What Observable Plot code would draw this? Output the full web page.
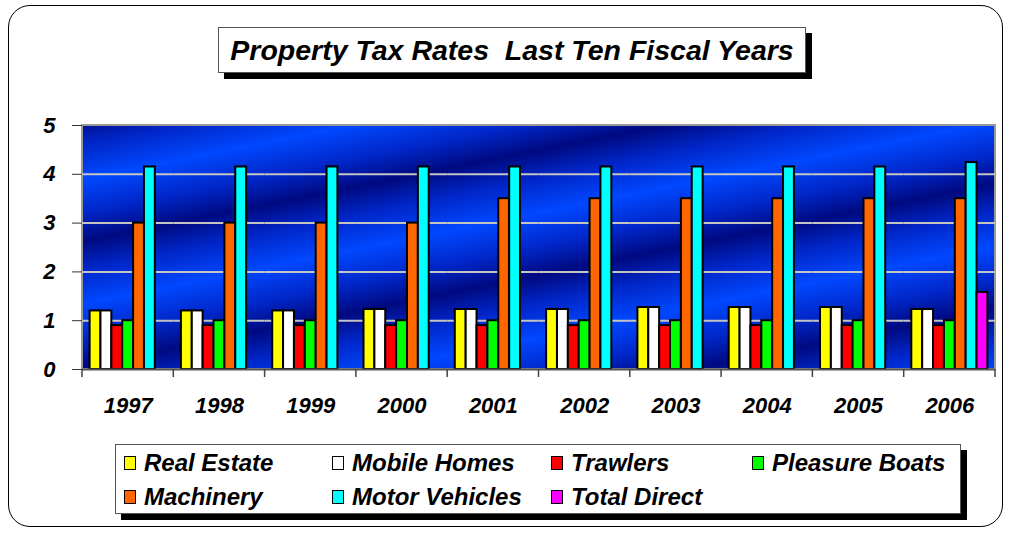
<!DOCTYPE html>
<html>
<head>
<meta charset="utf-8">
<script src="https://cdn.jsdelivr.net/npm/d3@7"></script>
<script src="https://cdn.jsdelivr.net/npm/@observablehq/plot@0.6"></script>
<style>
  html, body { margin: 0; padding: 0; background: #fff; }
  #wrap { position: relative; width: 1010px; height: 533px; overflow: hidden; font-family: "Liberation Sans", Arial, sans-serif; }
  #outer { position: absolute; left: 8px; top: 5px; width: 993px; height: 520px; border: 1px solid #000; border-radius: 22px; }
  #title { position: absolute; left: 218px; top: 27px; width: 586px; height: 44px; border: 1px solid #555; background: #fff;
           box-shadow: 6px 6px 0 #000; text-align: center; font-weight: bold; font-style: italic; font-size: 28.5px; line-height: 44px; color: #000; }
  #chart { position: absolute; left: 0; top: 0; }
  #legend { position: absolute; left: 115px; top: 444px; width: 844px; height: 68px; border: 1px solid #555; background: #fff;
            box-shadow: 6px 6px 0 #000; }
  .item { position: absolute; display: flex; align-items: center; font-weight: bold; font-style: italic; font-size: 24px; color: #000; white-space: nowrap; }
  .sw { width: 10px; height: 12px; border: 1.5px solid #000; margin-right: 8px; }
</style>
</head>
<body>
<div id="wrap">
  <div id="outer"></div>
  <div id="chart"></div>
  <div id="title">Property Tax Rates&nbsp; Last Ten Fiscal Years</div>
  <div id="legend"></div>
</div>
<script>
const years = ["1997","1998","1999","2000","2001","2002","2003","2004","2005","2006"];
const series = ["Real Estate","Mobile Homes","Trawlers","Pleasure Boats","Machinery","Motor Vehicles","Total Direct"];
const colors = ["#ffff00","#ffffff","#ff0000","#00ff00","#ff6600","#00ffff","#ff00ff"];
const realEstate    = [1.20,1.20,1.20,1.23,1.23,1.23,1.27,1.27,1.27,1.23];
const mobileHomes   = [1.20,1.20,1.20,1.23,1.23,1.23,1.27,1.27,1.27,1.23];
const trawlers      = [0.90,0.90,0.90,0.90,0.90,0.90,0.90,0.90,0.90,0.90];
const pleasureBoats = [1.00,1.00,1.00,1.00,1.00,1.00,1.00,1.00,1.00,1.00];
const machinery     = [3.00,3.00,3.00,3.00,3.50,3.50,3.50,3.50,3.50,3.50];
const motorVehicles = [4.15,4.15,4.15,4.15,4.15,4.15,4.15,4.15,4.15,4.24];
const totalDirect   = [null,null,null,null,null,null,null,null,null,1.58];
const yTicks = [0,1,2,3,4,5];
const gridValues = [1,2,3,4];

const seriesValues = [realEstate, mobileHomes, trawlers, pleasureBoats, machinery, motorVehicles, totalDirect];
const table = years.flatMap((year, i) =>
  series.map((s, j) => ({year, series: s, value: seriesValues[j][i]}))
).filter(d => d.value != null);

const W = 1010, H = 420, mT = 125, mL = 82, mR = 15, mB = 51;
const textStyle = {fontSize: 22, fontWeight: "bold", fontStyle: "italic"};

const plot = Plot.plot({
  width: W, height: H,
  marginTop: mT, marginLeft: mL, marginRight: mR, marginBottom: mB,
  style: {background: "transparent", fontFamily: "'Liberation Sans', Arial, sans-serif", overflow: "visible"},
  fx: {domain: years, padding: 0, round: false, label: null},
  x: {domain: series, paddingInner: 0, paddingOuter: 0.7, round: false, axis: null},
  y: {domain: [0, 5], label: null},
  color: {domain: series, range: colors},
  marks: [
    Plot.ruleY(gridValues, {stroke: "#c4c4c4", strokeWidth: 2}),
    Plot.barY(table, {fx: "year", x: "series", y: "value", fill: "series", stroke: "#000", strokeWidth: 2}),
    Plot.ruleY([0], {stroke: "#555", strokeWidth: 2}),
    Plot.axisY({ticks: yTicks, tickSize: 10, tickPadding: 17, tickFormat: d => String(d), stroke: "#333", ...textStyle}),
    Plot.axisFx({anchor: "bottom", tickSize: 0, tickPadding: 28, label: null, ...textStyle})
  ]
});

document.getElementById("chart").appendChild(plot);

// background gradient panel and group-boundary ticks
const svg = d3.select(plot);
const defs = svg.insert("defs", ":first-child");
const grad = defs.append("linearGradient")
  .attr("id", "bgGrad")
  .attr("gradientUnits", "userSpaceOnUse")
  .attr("spreadMethod", "reflect")
  .attr("x1", mL).attr("y1", mT - 8)
  .attr("x2", mL + 12).attr("y2", mT - 8 + 60);
grad.append("stop").attr("offset", "0%").attr("stop-color", "#000a80");
grad.append("stop").attr("offset", "45%").attr("stop-color", "#0026c8");
grad.append("stop").attr("offset", "100%").attr("stop-color", "#0048ff");

svg.insert("rect", "defs + *")
  .attr("x", mL).attr("y", mT)
  .attr("width", W - mL - mR).attr("height", H - mT - mB)
  .attr("fill", "url(#bgGrad)")
  .attr("stroke", "#999").attr("stroke-width", 2);

const fx = plot.scale("fx");
const bounds = years.map(y => fx.apply(y));
bounds.push(W - mR);
svg.append("g").selectAll("line").data(bounds).join("line")
  .attr("x1", d => d).attr("x2", d => d)
  .attr("y1", H - mB).attr("y2", H - mB + 8)
  .attr("stroke", "#444").attr("stroke-width", 1.5);

// legend
const legend = document.getElementById("legend");
const colLefts = [8, 216, 435, 636];
const rowTops = [4, 38];
series.forEach((s, i) => {
  const col = i < 4 ? i : i - 4;
  const row = i < 4 ? 0 : 1;
  const it = document.createElement("div");
  it.className = "item";
  it.style.left = colLefts[col] + "px";
  it.style.top = rowTops[row] + "px";
  const sw = document.createElement("div");
  sw.className = "sw";
  sw.style.background = colors[i];
  it.appendChild(sw);
  it.appendChild(document.createTextNode(s));
  legend.appendChild(it);
});
</script>
</body>
</html>
